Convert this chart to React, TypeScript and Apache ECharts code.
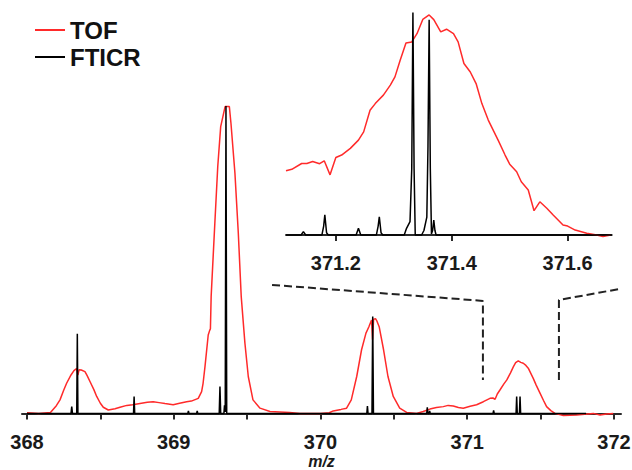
import React, { useEffect, useRef } from "react";
import * as echarts from "echarts";

// ---- main panel data (m/z, relative intensity) ----
const tofMain: [number, number][] = [
  [368.0, 0.2], [368.08, 0], [368.16, 0.3], [368.2, 2.5], [368.225, 4.4], [368.25, 7.5], [368.27, 9.8],
  [368.3, 12.5], [368.32, 13.9], [368.338, 14.6], [368.347, 12.5], [368.355, 14.2], [368.37, 14.1],
  [368.395, 13.6], [368.41, 12.3], [368.43, 10.3], [368.455, 7.8], [368.475, 5.5], [368.5, 3.3],
  [368.52, 2.0], [368.554, 1.1], [368.6, 1.5], [368.634, 2.0], [368.68, 2.6], [368.72, 2.8],
  [368.78, 3.3], [368.82, 3.6], [368.86, 3.8], [368.9, 3.5], [368.94, 3.2], [368.996, 2.8],
  [369.04, 3.3], [369.088, 3.8], [369.12, 4.0], [369.167, 4.9], [369.19, 7.1], [369.2, 9.8],
  [369.213, 15.2], [369.235, 25.5], [369.245, 27.0], [369.25, 27.5], [369.255, 38], [369.28, 61.8],
  [369.3, 80.3], [369.32, 93.3], [369.35, 99.8], [369.379, 99.8], [369.39, 94.4], [369.417, 78.2],
  [369.44, 58.7], [369.46, 38], [369.485, 22.9], [369.508, 12], [369.54, 4.4], [369.588, 1.7],
  [369.656, 0.6], [369.79, 0.3], [369.86, 0], [370.0, 0], [370.06, 0.2], [370.087, 0.8],
  [370.14, 1.3], [370.178, 1.7], [370.21, 4.4], [370.247, 12], [370.28, 20.7], [370.31, 26.1],
  [370.33, 28.2], [370.348, 30.4], [370.355, 24], [370.362, 30.6], [370.375, 30.8], [370.383, 30.2],
  [370.4, 28.2], [370.43, 20.7], [370.46, 12], [370.496, 5.5], [370.54, 1.7], [370.587, 0.3],
  [370.655, 0], [370.7, 0.6], [370.746, 1.4], [370.79, 1.9], [370.837, 2.2], [370.87, 2.6],
  [370.905, 2.4], [370.94, 1.9], [370.973, 1.7], [371.02, 2.3], [371.064, 2.8], [371.11, 3.8],
  [371.155, 4.9], [371.175, 5.0], [371.19, 4.6], [371.205, 6.3], [371.223, 7.6], [371.25, 9.6],
  [371.27, 10.9], [371.295, 13.2], [371.315, 15.2], [371.33, 16.5], [371.348, 17.1], [371.365, 16.6],
  [371.382, 16.3], [371.4, 15.6], [371.416, 14.7], [371.45, 11.4], [371.47, 9.2], [371.496, 6.6],
  [371.52, 4.2], [371.541, 2.2], [371.57, 0.9], [371.598, 0], [371.655, -0.7], [371.7, -0.6],
  [371.746, -0.5], [371.8, -0.3], [371.86, 0], [371.905, -0.5], [371.95, -0.2], [371.995, 0],
];

const fticrMain: [number, number][] = [
  [368.0, 0], [368.3, 0], [368.305, 2.2], [368.31, 0], [368.339, 0], [368.343, 25.9], [368.347, 0],
  [368.726, 0], [368.73, 5.5], [368.734, 0], [369.096, 0], [369.1, 0.8], [369.104, 0],
  [369.156, 0], [369.16, 0.8], [369.164, 0], [369.31, 0], [369.315, 8.7], [369.32, 0],
  [369.342, 0], [369.346, 2.6], [369.351, 0.5], [369.356, 100], [369.361, 0],
  [370.316, 0], [370.32, 2.4], [370.324, 0], [370.351, 0], [370.356, 31.5], [370.361, 0],
  [370.724, 0], [370.728, 2.0], [370.732, 0], [370.74, 0], [370.744, 0.8], [370.748, 0],
  [371.176, 0], [371.18, 1.0], [371.184, 0],
  [371.333, 0], [371.337, 5.5], [371.341, 0], [371.356, 0], [371.36, 5.5], [371.364, 0],
  [371.81, 0],
];

// ---- inset panel data ----
const tofInset: [number, number][] = [
  [371.114, 28.8], [371.124, 29.5], [371.141, 32.1], [371.15, 32.1], [371.16, 33], [371.172, 32],
  [371.18, 33.3], [371.19, 27], [371.2, 34.8], [371.21, 35.9], [371.225, 38.9], [371.239, 42.6],
  [371.248, 46.3], [371.259, 56], [371.268, 59], [371.282, 62.8], [371.294, 67.3], [371.302, 71],
  [371.311, 78.5], [371.321, 86.2], [371.331, 86.7], [371.34, 90.4], [371.35, 96.8], [371.361, 98.8],
  [371.369, 96.7], [371.381, 91.2], [371.391, 92.4], [371.403, 90.4], [371.411, 86.7], [371.421, 77],
  [371.432, 73.2], [371.442, 68], [371.452, 59], [371.463, 51.6], [371.48, 42.6], [371.492, 35.9],
  [371.5, 31.8], [371.512, 28.4], [371.52, 23.9], [371.532, 20.2], [371.542, 10.9], [371.552, 14.9],
  [371.564, 12], [371.575, 9], [371.592, 4.5], [371.6, 4], [371.613, 2.2], [371.633, 0.8],
  [371.65, 0], [371.661, -0.7], [371.674, 0],
];

const fticrInset: [number, number][] = [
  [371.114, 0], [371.14, 0], [371.144, 1.5], [371.148, 0], [371.176, 0], [371.179, 4], [371.181, 9],
  [371.184, 1], [371.187, 0], [371.235, 0], [371.239, 3], [371.243, 0], [371.27, 0], [371.273, 4],
  [371.275, 8.2], [371.278, 1], [371.281, 0], [371.318, 0], [371.322, 3], [371.328, 6],
  [371.331, 30], [371.333, 99.9], [371.335, 30], [371.337, 0], [371.348, 0], [371.352, 2],
  [371.357, 8], [371.359, 40], [371.361, 96.7], [371.363, 30], [371.365, 0.5], [371.367, 2],
  [371.369, 6.7], [371.371, 2], [371.373, 0], [371.676, 0],
];

// zoom guide (dashed) lines in main-panel coordinates
const guideLeft: [number, number][] = [[369.67, 41.8], [371.107, 36.6], [371.107, 10.9]];
const guideRight: [number, number][] = [[371.625, 10.9], [371.625, 36.9], [372.041, 40.5]];

const mainTicks = [368, 368.5, 369, 369.5, 370, 370.5, 371, 371.5, 372];
const mainLabels = [368, 369, 370, 371, 372];
const insetTicks = [371.2, 371.4, 371.6];

const FONT = "'Liberation Sans', Arial, sans-serif";
const RED = "#ff2a2a";
const AXIS = "#2a2a2a";

export default function App() {
  const ref = useRef<HTMLDivElement>(null);
  useEffect(() => {
    if (!ref.current) return;
    const chart = echarts.init(ref.current, undefined, { renderer: "svg" });
    const lineSeries = (name: string, data: any, color: string, xi: number, width = 1.5, extra: any = {}) => ({
      name,
      type: "line",
      data,
      xAxisIndex: xi,
      yAxisIndex: xi,
      symbol: "none",
      clip: false,
      silent: true,
      lineStyle: { color, width, ...extra },
      itemStyle: { color },
    });
    chart.setOption({
      animation: false,
      backgroundColor: "#fff",
      legend: {
        data: ["TOF", "FTICR"],
        orient: "vertical",
        left: 30,
        top: 13,
        icon: "rect",
        itemWidth: 30,
        itemHeight: 2,
        itemGap: 3,
        textStyle: { fontFamily: FONT, fontSize: 24, fontWeight: "bold", color: "#111", lineHeight: 23 },
      },
      grid: [
        { left: 22, right: 11, top: 106, bottom: 47.7, outerBoundsMode: "none", containLabel: false },
        { left: 286, right: 20.3, top: 12.3, bottom: 225, outerBoundsMode: "none", containLabel: false },
      ],
      xAxis: [
        {
          type: "value",
          gridIndex: 0,
          min: 367.966,
          max: 372.048,
          splitLine: { show: false },
          axisLine: { lineStyle: { color: AXIS, width: 2 } },
          axisTick: { customValues: mainTicks, length: 6, lineStyle: { color: AXIS, width: 2 } },
          axisLabel: {
            customValues: mainLabels,
            margin: 10,
            fontFamily: FONT,
            fontSize: 20,
            lineHeight: 20,
            fontWeight: "bold",
            color: "#1a1a1a",
            formatter: (v: number) => String(v),
          },
          name: "m/z",
          nameLocation: "middle",
          nameGap: 31,
          nameMoveOverlap: false,
          nameTextStyle: { fontFamily: FONT, fontSize: 16, fontWeight: "bold", fontStyle: "italic", color: "#1a1a1a", lineHeight: 16 },
        },
        {
          type: "value",
          gridIndex: 1,
          min: 371.114,
          max: 371.676,
          splitLine: { show: false },
          axisLine: { lineStyle: { color: AXIS, width: 2 } },
          axisTick: { customValues: insetTicks, length: 6, lineStyle: { color: AXIS, width: 2 } },
          axisLabel: {
            customValues: insetTicks,
            margin: 8,
            fontFamily: FONT,
            fontSize: 20,
            fontWeight: "bold",
            color: "#1a1a1a",
            formatter: (v: number) => v.toFixed(1),
          },
        },
      ],
      yAxis: [
        { type: "value", gridIndex: 0, min: -2.9, max: 100, show: false, splitLine: { show: false } },
        { type: "value", gridIndex: 1, min: -4.5, max: 100, show: false, splitLine: { show: false } },
      ],
      series: [
        lineSeries("TOF", tofMain, RED, 0, 1.5),
        lineSeries("FTICR", fticrMain, "#000", 0, 1.5),
        lineSeries("guideL", guideLeft, "#222", 0, 2, { type: [8, 4] }),
        lineSeries("guideR", guideRight, "#222", 0, 2, { type: [8, 4] }),
        lineSeries("TOF", tofInset, RED, 1, 1.5),
        lineSeries("FTICR", fticrInset, "#000", 1, 1.5),
      ],
    });
    return () => chart.dispose();
  }, []);
  return <div ref={ref} style={{ width: 632, height: 470, position: "absolute", left: 0, top: 0 }} />;
}
